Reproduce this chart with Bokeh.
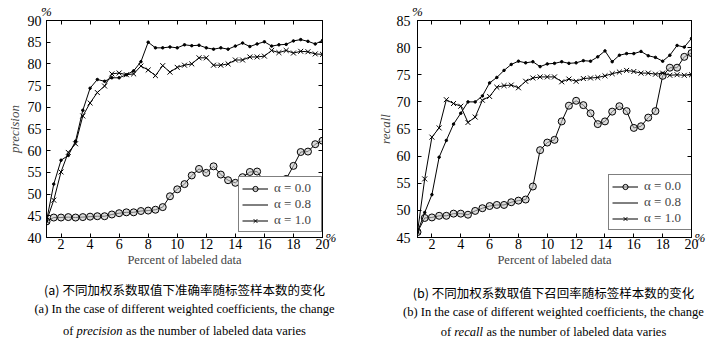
from bokeh.plotting import figure
from bokeh.models import Range1d, LinearAxis, FixedTicker, Legend, LegendItem
from bokeh.layouts import column, row
from bokeh.embed import file_html
from bokeh.resources import INLINE
from bokeh.core.properties import value

# ---------------- data ----------------
pct_labeled = [1, 1.5, 2, 2.5, 3, 3.5, 4, 4.5, 5, 5.5, 6, 6.5, 7, 7.5, 8, 8.5, 9, 9.5, 10, 10.5,
               11, 11.5, 12, 12.5, 13, 13.5, 14, 14.5, 15, 15.5, 16, 16.5, 17, 17.5, 18, 18.5,
               19, 19.5, 20]
x_ticks = [2, 4, 6, 8, 10, 12, 14, 16, 18, 20]

precision_a00 = [43.7, 44.6, 44.6, 44.7, 44.6, 44.7, 44.8, 44.9, 44.9, 45.3, 45.6, 45.8, 45.8,
                 46.1, 46.2, 46.4, 47.0, 49.5, 51.1, 52.3, 54.3, 55.8, 54.9, 56.4, 54.5, 53.2,
                 52.6, 53.9, 55.1, 55.2, 52.8, 51.9, 52.8, 53.5, 56.5, 59.7, 59.8, 61.5, 62.3]
precision_a08 = [43.8, 52.3, 57.8, 58.9, 62.2, 69.3, 74.4, 76.4, 76.0, 76.8, 76.8, 77.5, 78.4,
                 80.5, 85.0, 83.7, 83.7, 83.9, 83.7, 84.4, 84.2, 84.3, 83.7, 83.4, 83.7, 83.4,
                 84.1, 84.8, 84.0, 84.6, 85.1, 84.1, 84.4, 84.5, 85.3, 85.6, 85.2, 84.6, 85.4]
precision_a10 = [43.8, 48.6, 55.1, 59.6, 61.6, 68.0, 71.0, 73.4, 74.9, 77.7, 77.9, 77.5, 77.7,
                 79.5, 78.6, 77.3, 79.6, 78.1, 79.2, 79.7, 80.0, 81.4, 81.4, 79.7, 79.7, 80.0,
                 80.9, 80.9, 81.6, 81.6, 81.8, 83.1, 82.6, 83.1, 82.5, 82.9, 82.8, 82.3, 82.2]

recall_a00 = [46.0, 48.6, 48.7, 49.0, 49.0, 49.4, 49.4, 49.2, 49.9, 50.4, 50.8, 51.0, 51.0,
              51.5, 51.8, 52.0, 54.4, 61.1, 62.5, 63.0, 66.4, 69.3, 70.2, 69.4, 67.9, 65.9,
              66.4, 68.2, 69.2, 68.3, 65.2, 65.5, 67.1, 68.3, 74.8, 76.3, 76.3, 78.3, 79.0]
recall_a08 = [46.0, 49.6, 52.9, 59.8, 62.9, 65.9, 67.9, 70.0, 70.0, 71.1, 73.5, 74.5, 75.8,
              76.9, 77.5, 77.2, 77.4, 76.5, 77.0, 77.1, 77.4, 77.1, 77.2, 77.6, 77.5, 78.3,
              79.4, 77.4, 78.6, 78.9, 78.9, 79.3, 78.5, 78.2, 77.5, 78.6, 80.4, 80.1, 81.7]
recall_a10 = [46.0, 55.8, 63.5, 65.2, 70.4, 69.7, 69.2, 66.2, 67.2, 70.3, 71.0, 72.7, 73.0,
              73.1, 72.6, 73.8, 74.4, 74.6, 74.6, 74.6, 73.7, 74.2, 73.8, 74.3, 74.4, 74.5,
              74.8, 75.2, 75.5, 75.8, 75.6, 75.3, 75.3, 75.1, 75.3, 74.9, 75.0, 74.9, 75.0]

precision_yticks = [40, 45, 50, 55, 60, 65, 70, 75, 80, 85, 90]
recall_yticks = [45, 50, 55, 60, 65, 70, 75, 80, 85]
legend_labels = ["α = 0.0", "α = 0.8", "α = 1.0"]
x_label = "Percent of labeled data"
unit_label = "%"

SERIF = "Liberation Serif"
CJK = "Noto Sans CJK SC"


def style_axis(ax, ticks, labels=True, overrides=None):
    ax.ticker = FixedTicker(ticks=ticks)
    ax.major_tick_in = 4
    ax.major_tick_out = 0
    ax.minor_tick_in = 0
    ax.minor_tick_out = 0
    ax.axis_line_color = "black"
    ax.major_tick_line_color = "black"
    ax.major_label_text_font = SERIF
    ax.major_label_text_font_size = "14px"
    ax.major_label_text_color = "black"
    if not labels:
        ov = {t: "" for t in ticks}
        if overrides:
            ov.update(overrides)
        ax.major_label_overrides = ov


def make_panel(width, height, bl, br, bt, bb, yr, yticks, ylabel, s00, s08, s10,
               leg_xy, y_label_standoff, ytick_standoff, right_pct_baseline):
    p = figure(width=width, height=height, x_range=Range1d(1, 20), y_range=Range1d(*yr),
               output_backend="svg", toolbar_location=None,
               min_border_left=bl, min_border_right=br, min_border_top=bt, min_border_bottom=bb)
    p.xgrid.visible = False
    p.ygrid.visible = False
    p.outline_line_color = "black"
    p.outline_line_width = 1
    p.background_fill_color = "white"
    p.border_fill_color = "white"

    xa = p.xaxis[0]
    style_axis(xa, x_ticks)
    xa.major_label_standoff = 1
    xa.axis_label = x_label
    xa.axis_label_text_font = SERIF
    xa.axis_label_text_font_size = "12.5px"
    xa.axis_label_text_font_style = "normal"
    xa.axis_label_standoff = 1

    ya = p.yaxis[0]
    style_axis(ya, yticks)
    ya.major_label_standoff = ytick_standoff
    ya.axis_label = ylabel
    ya.axis_label_text_font = SERIF
    ya.axis_label_text_font_size = "13px"
    ya.axis_label_text_font_style = "italic"
    ya.axis_label_standoff = y_label_standoff

    # top axis: inward ticks, the "%" unit sits at the left corner
    top = LinearAxis()
    style_axis(top, [1] + x_ticks, labels=False, overrides={1: unit_label})
    top.major_label_text_align = "left"
    top.major_label_text_font_size = "13px"
    top.major_label_text_font_style = "italic"
    top.major_label_standoff = 2
    p.add_layout(top, "above")

    # right axis: inward ticks, the "%" unit sits at the bottom corner
    right = LinearAxis()
    style_axis(right, yticks, labels=False, overrides={yr[0]: unit_label})
    right.major_label_text_font_size = "13px"
    right.major_label_text_font_style = "italic"
    right.major_label_text_baseline = right_pct_baseline
    right.major_label_standoff = 3
    p.add_layout(right, "right")

    l00 = p.line(pct_labeled, s00, line_color="black", line_width=1)
    m00 = p.scatter(pct_labeled, s00, marker="circle", size=7, fill_color="#c4c4c4",
                    fill_alpha=0.6, line_color="black", line_width=1)
    l08 = p.line(pct_labeled, s08, line_color="black", line_width=1)
    p.scatter(pct_labeled, s08, marker="circle", size=2.5, fill_color="black",
              line_color="black")
    l10 = p.line(pct_labeled, s10, line_color="black", line_width=1)
    m10 = p.scatter(pct_labeled, s10, marker="x", size=7, line_color="black", line_width=1)

    leg = Legend(items=[LegendItem(label=legend_labels[0], renderers=[l00, m00]),
                        LegendItem(label=legend_labels[1], renderers=[l08]),
                        LegendItem(label=legend_labels[2], renderers=[l10, m10])],
                 location=leg_xy, margin=0, padding=3, spacing=0,
                 glyph_width=26, glyph_height=13, label_height=13, label_width=44,
                 label_standoff=6, label_text_font=SERIF, label_text_font_size="13px",
                 border_line_color="black", border_line_width=1,
                 background_fill_color="white", background_fill_alpha=1)
    p.add_layout(leg)
    return p


p1 = make_panel(360, 278, 46, 38, 19, 36, (40, 90), precision_yticks, "precision",
                precision_a00, precision_a08, precision_a10, (192, 5), 3, 5, "middle")
p2 = make_panel(361, 278, 57, 30, 19, 41, (45, 85), recall_yticks, "recall",
                recall_a00, recall_a08, recall_a10, (191, 7), 1, 7, "bottom")

# ---------------- captions ----------------
cap = figure(width=721, height=71, x_range=Range1d(0, 721), y_range=Range1d(71, 0),
             output_backend="svg", toolbar_location=None, min_border=0,
             x_axis_type=None, y_axis_type=None)
cap.outline_line_color = None
cap.xgrid.visible = False
cap.ygrid.visible = False

cn_captions = ["(a) 不同加权系数取值下准确率随标签样本数的变化", "(b) 不同加权系数取值下召回率随标签样本数的变化"]
en_captions = ["(a) In the case of different weighted coefficients, the change",
               "(b) In the case of different weighted coefficients, the change"]

cap.text(x=[184, 553], y=[11, 14], text=cn_captions, text_font=value(CJK),
         text_font_size=value("12.5px"), text_align="center", text_baseline="middle",
         text_color="black")
cap.text(x=[184, 553], y=[30, 33], text=en_captions, text_font=value(SERIF),
         text_font_size=value("12.5px"), text_align="center", text_baseline="middle",
         text_color="black")
# third line: mixed upright / italic
cap.text(x=[62.5, 440.2], y=[52, 53], text=["of", "of"], text_font=value(SERIF),
         text_font_size=value("12.5px"), text_align="left", text_baseline="middle",
         text_color="black")
cap.text(x=[76.0, 453.7], y=[52, 53], text=["precision", "recall"], text_font=value(SERIF),
         text_font_size=value("12.5px"), text_font_style="italic", text_align="left",
         text_baseline="middle", text_color="black")
cap.text(x=[125.6, 486.0], y=[52, 53],
         text=["as the number of labeled data varies", "as the number of labeled data varies"],
         text_font=value(SERIF), text_font_size=value("12.5px"), text_align="left",
         text_baseline="middle", text_color="black")

layout = column(row(p1, p2), cap)
open("out.html", "w").write(file_html(layout, INLINE))
